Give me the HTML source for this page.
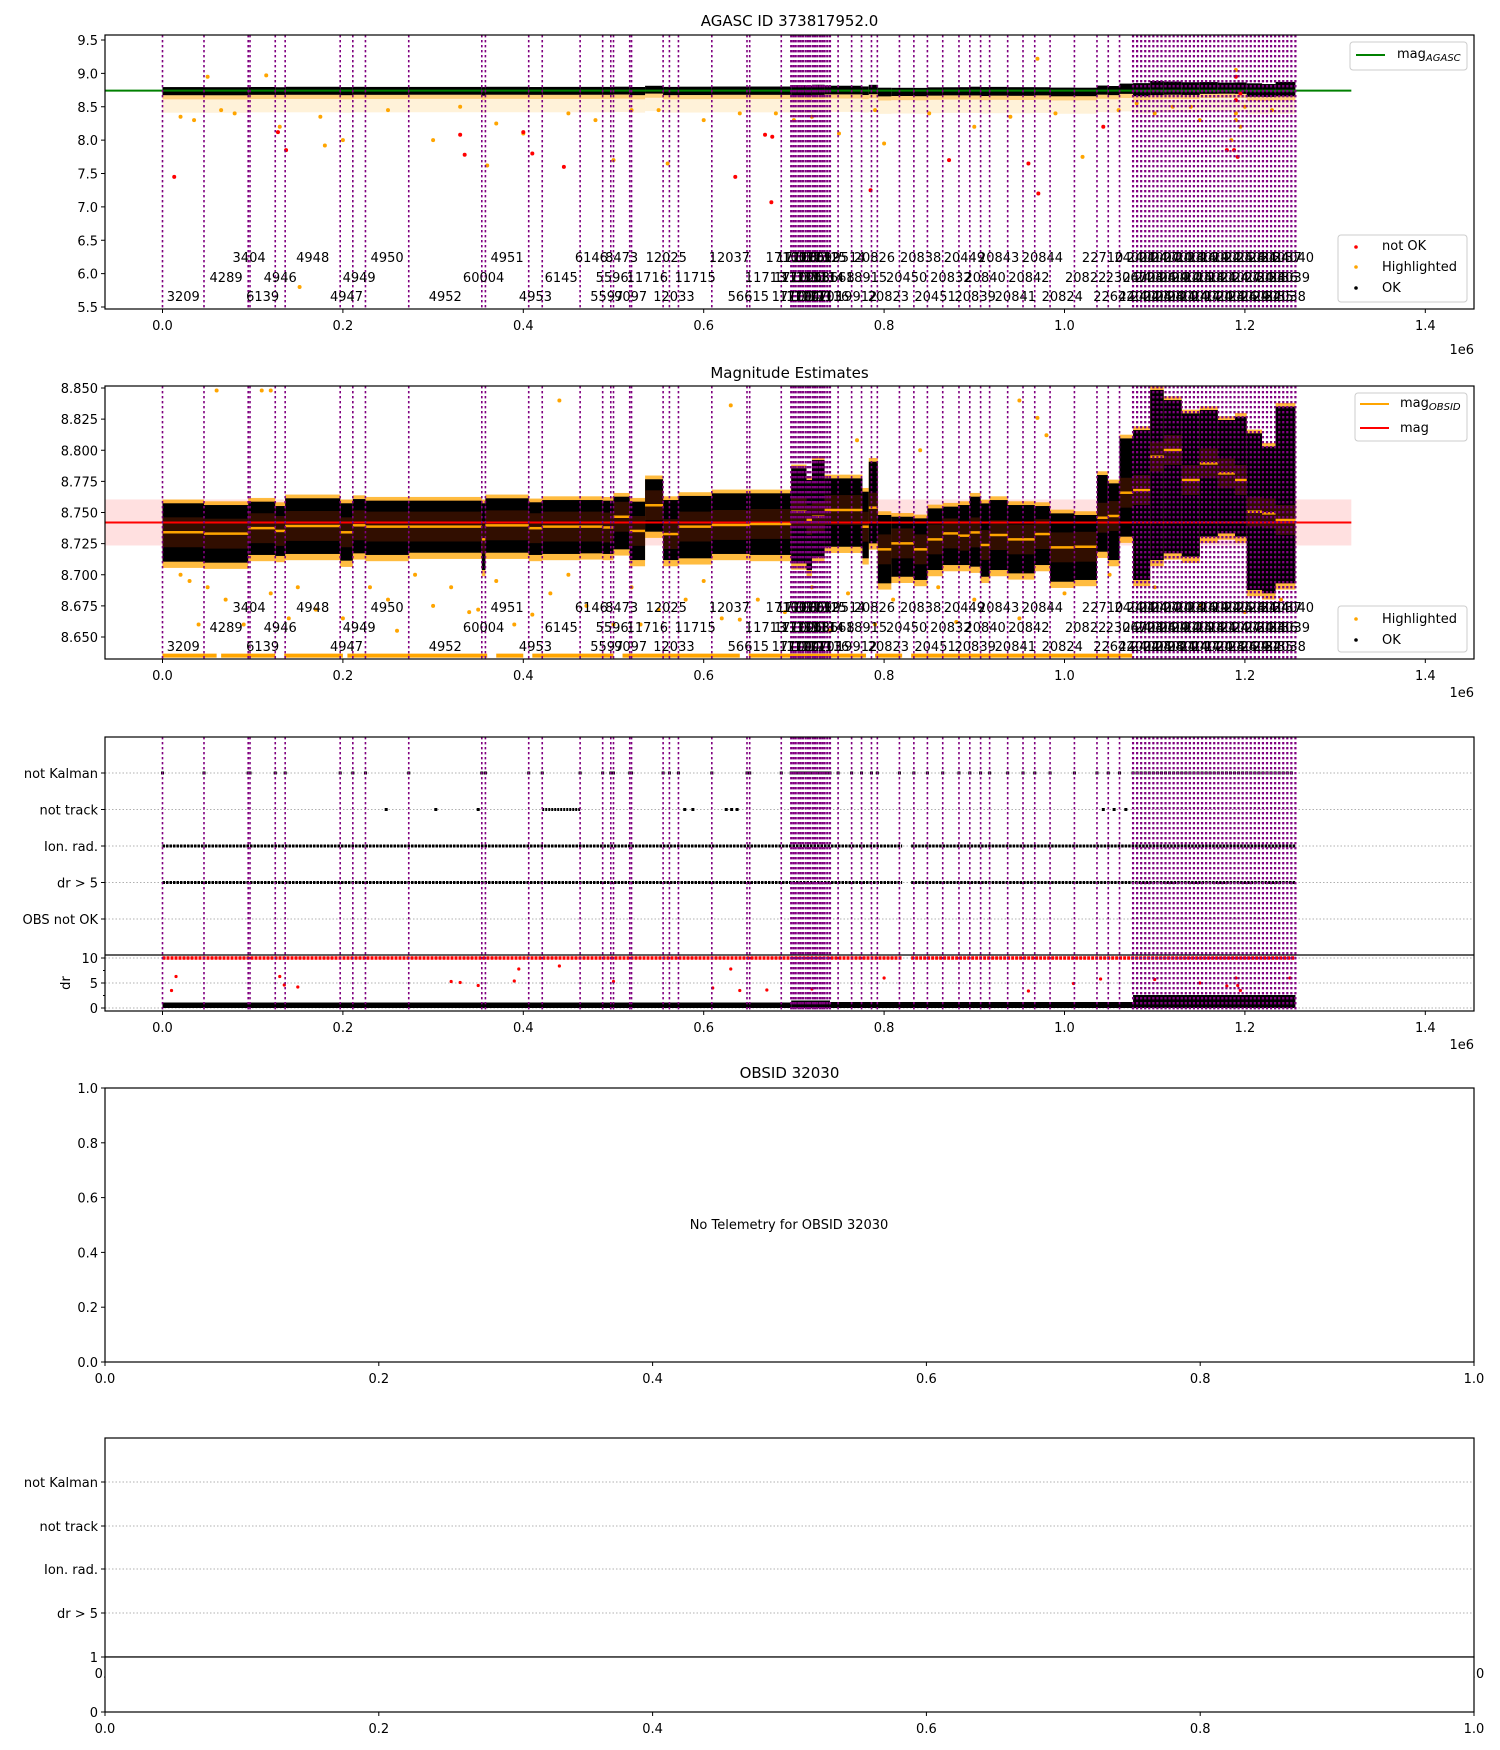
<!DOCTYPE html>
<html><head><meta charset="utf-8"><title>AGASC 373817952</title>
<style>
html,body{margin:0;padding:0;background:#fff;}
svg{display:block;font-family:"DejaVu Sans","Liberation Sans",sans-serif;}
</style></head>
<body>
<svg id="fig" width="1500" height="1750" viewBox="0 0 1500 1750" xmlns="http://www.w3.org/2000/svg">
<rect x="0" y="0" width="1500" height="1750" fill="#fff"/>
<defs>
<clipPath id="c1"><rect x="105" y="35" width="1369" height="274"/></clipPath>
<clipPath id="c2"><rect x="105" y="386" width="1369" height="273"/></clipPath>
<clipPath id="c3"><rect x="105" y="737" width="1369" height="274"/></clipPath>
</defs>
<g id="p1"></g>
<g id="p2"></g>
<g id="p3"></g>
<g id="p4"></g>
<g id="p5"></g>
</svg>
<script>
// ---------- data ----------
const obsStart = [0.000,0.046,0.095,0.097,0.125,0.136,0.197,0.211,0.225,0.273,0.354,0.358,0.406,0.421,0.463,0.488,0.497,0.500,0.518,0.520,0.555,0.562,0.572,0.609,0.648,0.651,0.686,
0.697,0.6995,0.702,0.705,0.7075,0.710,0.713,0.7155,0.718,0.721,0.7235,0.726,0.729,0.7315,0.734,0.737,
0.740,0.749,0.764,0.775,0.786,0.7925,0.817,0.833,0.848,0.865,0.883,0.895,0.907,0.917,0.937,0.954,0.967,0.984,1.011,1.036,1.0485,1.061,
1.076,1.0805,1.085,1.0895,1.094,1.0985,1.103,1.1075,1.112,1.1165,1.121,1.1255,1.130,1.1345,1.139,1.1435,1.148,1.1525,1.157,1.1615,1.166,1.1705,1.175,1.1795,1.184,1.1885,1.193,1.1975,1.202,1.2065,1.211,1.2155,1.220,1.2245,1.229,1.2335,1.238,1.2425,1.247,1.2515];
const obsLastEnd = 1.256;
const obsIds = ["3209","4289","3404","6139","4946","4948","4947","4949","4950","4952","60004","4951","4953","6145","6146","5597","5596","8473","9097","11716","12025","12033","11715","12037","56615","11713","17100",
"17101","17102","17103","17104","17105","17106","17107","17108","17109","17110","17111","17112","17113","17114","17115","17116",
"18668","19514","19912","18915","20826","20823","20450","20838","20451","20832","20449","20839","20840","20843","20841","20842","20844","20824","20822","22710","22642","23067",
"24001","24002","24003","24004","24005","24006","24007","24008","24009","24010","24011","24012","24013","24014","24015","24016","24017","24018","24019","24020","24021","24022","24023","24024","24025","24026","24027","24028","24029","24030","24031","24032","24033","24034","24035","24036","24037","24038","24039","24040"];

const segStart = [0.000,0.046,0.095,0.125,0.136,0.197,0.211,0.225,0.273,0.354,0.358,0.406,0.421,0.463,0.488,0.500,0.518,0.535,0.555,0.572,0.609,0.651,0.697,0.714,0.720,0.734,0.776,0.783,0.793,0.808,0.833,0.848,0.865,0.882,0.895,0.907,0.917,0.937,0.967,0.984,1.011,1.036,1.048,1.061,1.076,1.095,1.110,1.130,1.150,1.170,1.189,1.202,1.219,1.234];
const segEnd   = [0.046,0.095,0.125,0.136,0.197,0.211,0.225,0.273,0.354,0.358,0.406,0.421,0.463,0.488,0.500,0.518,0.535,0.555,0.572,0.609,0.651,0.697,0.714,0.720,0.734,0.776,0.783,0.793,0.808,0.833,0.848,0.865,0.882,0.895,0.907,0.917,0.937,0.967,0.984,1.011,1.036,1.048,1.061,1.076,1.095,1.110,1.130,1.150,1.170,1.189,1.202,1.219,1.234,1.256];
const segLo    = [8.7105,8.7097,8.7159,8.7151,8.7167,8.7113,8.7172,8.7159,8.7177,8.7038,8.7177,8.7159,8.7167,8.7172,8.7167,8.7204,8.7118,8.7346,8.7118,8.7132,8.7167,8.7159,8.7091,8.7038,8.7145,8.7225,8.7132,8.7252,8.6931,8.6984,8.6958,8.7038,8.7078,8.7078,8.7065,8.6984,8.7038,8.7011,8.7078,8.6944,8.6958,8.7185,8.7118,8.7306,8.6958,8.7118,8.7172,8.7145,8.7306,8.7332,8.7306,8.6877,8.6851,8.6931];
const segHi    = [8.7574,8.7560,8.7587,8.7552,8.7614,8.7574,8.7608,8.7595,8.7595,8.7574,8.7614,8.7582,8.7600,8.7600,8.7595,8.7627,8.7587,8.7767,8.7600,8.7633,8.7654,8.7654,8.7855,8.7761,8.7921,8.7774,8.7667,8.7908,8.7480,8.7466,8.7453,8.7533,8.7547,8.7560,8.7627,8.7573,8.7600,8.7560,8.7552,8.7493,8.7480,8.7801,8.7734,8.8095,8.8162,8.8484,8.8403,8.8296,8.8323,8.8243,8.8269,8.8136,8.8029,8.8350];
const segMean  = [8.7341,8.7330,8.7374,8.7352,8.7392,8.7341,8.7397,8.7387,8.7387,8.7285,8.7397,8.7374,8.7387,8.7387,8.7380,8.7466,8.7352,8.7558,8.7327,8.7387,8.7400,8.7408,8.7506,8.7440,8.7466,8.7520,8.7386,8.7539,8.7204,8.7252,8.7204,8.7284,8.7332,8.7314,8.7340,8.7239,8.7319,8.7284,8.7327,8.7220,8.7225,8.7458,8.7472,8.7659,8.7680,8.7948,8.8002,8.7761,8.7895,8.7814,8.7761,8.7506,8.7493,8.7440];

const magAgasc = 8.742;
const magEst = 8.742;
const magErr = 0.0185;
const lineEnd = 1.318;

const p1RedT = [0.013,0.128,0.137,0.33,0.335,0.40,0.41,0.445,0.635,0.668,0.676,0.675,0.785,0.872,0.960,0.971,1.043,1.18,1.188,1.19,1.192,1.19,1.195];
const p1RedM = [7.45,8.12,7.85,8.08,7.78,8.12,7.80,7.60,7.45,8.08,8.05,7.07,7.25,7.70,7.65,7.20,8.20,7.85,7.85,8.95,7.75,8.60,8.70];
const p1OrT = [0.05,0.115,0.18,0.152,0.20,0.30,0.36,0.13,0.40,0.50,0.56,0.60,0.75,0.80,0.90,0.97,1.02,1.185,1.19,1.19,1.195,1.19,1.20,1.23,1.10,1.12,1.08,1.15,0.70,0.68,0.25,0.33,0.45,0.55,0.85,0.02,0.08,0.035,0.065,0.175,0.37,0.48,0.52,0.64,0.72,0.79,0.94,0.99,1.06,1.14];
const p1OrM = [8.95,8.97,7.92,5.80,8.00,8.00,7.62,8.20,8.10,7.70,7.65,8.30,8.10,7.95,8.20,9.22,7.75,8.00,8.30,8.40,8.20,9.05,8.50,8.45,8.40,8.50,8.55,8.30,8.30,8.40,8.45,8.50,8.40,8.45,8.40,8.35,8.40,8.30,8.45,8.35,8.25,8.30,8.45,8.40,8.35,8.45,8.35,8.40,8.45,8.50];

const p2OrT = [0.06,0.11,0.12,0.44,0.63,0.95,0.97,0.77,0.98,0.84,0.02,0.03,0.05,0.07,0.09,0.12,0.15,0.17,0.20,0.23,0.25,0.28,0.30,0.32,0.34,0.37,0.39,0.43,0.45,0.47,0.50,0.52,0.55,0.58,0.60,0.62,0.66,0.69,0.72,0.76,0.79,0.81,0.86,0.90,0.95,1.00,1.05,1.10,1.15,1.20,1.24,0.04,0.14,0.26,0.35,0.41,0.53,0.64,0.74,0.88];
const p2OrM = [8.848,8.848,8.848,8.840,8.836,8.840,8.826,8.808,8.812,8.800,8.700,8.695,8.690,8.680,8.660,8.685,8.690,8.672,8.665,8.690,8.680,8.700,8.675,8.690,8.670,8.695,8.660,8.685,8.700,8.675,8.660,8.690,8.672,8.680,8.695,8.665,8.680,8.670,8.690,8.685,8.660,8.680,8.690,8.680,8.665,8.685,8.700,8.690,8.675,8.670,8.680,8.66,8.665,8.655,8.672,8.668,8.660,8.664,8.655,8.662];
const clipRanges = [[0.0,0.06],[0.065,0.125],[0.135,0.2],[0.205,0.36],[0.37,0.4],[0.41,0.5],[0.51,0.64],[0.65,0.78],[0.79,0.82],[0.83,1.075]];

const notTrackT = [0.248,0.303,0.35,0.579,0.588,0.625,0.631,0.637,1.043,1.055,1.068];
const notTrackRanges = [[0.421,0.463]];
const ionRanges = [[0.0,0.82],[0.83,1.256]];
const drTopStart = [0.0,0.697,0.74,1.076];
const drTopEnd = [0.697,0.74,1.076,1.256];
const drTop = [1.1,1.5,1.2,2.6];
const drRedT = [0.015,0.01,0.13,0.135,0.15,0.32,0.33,0.35,0.39,0.395,0.44,0.50,0.61,0.63,0.64,0.67,0.72,0.80,0.96,1.01,1.04,1.10,1.15,1.18,1.19,1.192,1.195,1.25];
const drRed = [6.3,3.5,6.3,4.6,4.2,5.3,5.1,4.5,5.4,7.8,8.4,5.3,4.0,7.8,3.5,3.6,3.8,6.0,3.4,4.9,5.8,5.7,5.0,4.4,6.0,4.5,3.5,6.0];

// ---------- helpers ----------
const NS = "http://www.w3.org/2000/svg";
function mk(parent, tag, attrs, text){
  const e = document.createElementNS(NS, tag);
  for (const k in attrs) e.setAttribute(k, attrs[k]);
  if (text !== undefined) e.textContent = text;
  parent.appendChild(e);
  return e;
}
const L = 105, R = 1474;
const X = v => 162.5 + v*902;
const Y1 = m => 40 + (9.5 - m)*66.75;
const Y2 = m => 388 + (8.85 - m)*1245;
const YF = i => 919 - i*36.5;
const YD = d => 1008 - d*5;
const obsEnd = obsStart.map((s,i)=> i < obsStart.length-1 ? obsStart[i+1] : obsLastEnd);

function frame(g, top, bot, name){
  const r = mk(g,'rect',{x:L,y:top,width:R-L,height:bot-top,fill:'none',stroke:'#000','stroke-width':1.2});
  
  
}
function xTicks(g, bot, vals, fmt, expOff){
  vals.forEach(v=>{
    const x = X(v);
    mk(g,'line',{x1:x,y1:bot,x2:x,y2:bot+4,stroke:'#000','stroke-width':1});
    const t = mk(g,'text',{x:x,y:bot+21,'font-size':13,'text-anchor':'middle'}, fmt(v));
    
    
  });
  const t = mk(g,'text',{x:R,y:bot+expOff,'font-size':13,'text-anchor':'end'},'1e6');
  
  
}
function yTick(g, y, label){
  mk(g,'line',{x1:L-4,y1:y,x2:L,y2:y,stroke:'#000','stroke-width':1});
  const t = mk(g,'text',{x:L-7,y:y+5,'font-size':13,'text-anchor':'end'},label);
  
  
}
function title(g, y, s){
  const t = mk(g,'text',{x:(L+R)/2,y:y,'font-size':15,'text-anchor':'middle'},s);
  
  
}
function vlines(g, top, bot){
  const xs = obsStart.concat([obsLastEnd]);
  xs.forEach(v=>{
    const dense = (v>0.696 && v<0.741) || (v>1.075);
    const l = mk(g,'line',{x1:X(v),y1:top,x2:X(v),y2:bot,stroke:'#800080','stroke-width':dense?2.2:1.6,'stroke-dasharray':'2.4,2.6'});
    
    
  });
}
function obsLabels(g, bot){
  const rows = [bot-13, bot-32, bot-52];
  obsIds.forEach((id,i)=>{
    const c = (obsStart[i]+obsEnd[i])/2;
    const t = mk(g,'text',{x:X(c),y:rows[i%3]+5,'font-size':13,'text-anchor':'middle'},id);
    
    
  });
}
function legendBox(g, x, y, w, h, name){
  const r = mk(g,'rect',{x:x,y:y,width:w,height:h,rx:3,fill:'#fff','fill-opacity':0.8,stroke:'#ccc','stroke-width':1});
  
  
}
function legendMark(g, x, y, color){
  mk(g,'circle',{cx:x,cy:y,r:1.8,fill:color});
}
function legendLine(g, x, y, color){
  mk(g,'line',{x1:x,y1:y,x2:x+29,y2:y,stroke:color,'stroke-width':2});
}
function legendText(g, x, y, main, sub){
  const t = mk(g,'text',{x:x,y:y+5,'font-size':13},main);
  if (sub){ mk(t,'tspan',{'font-size':10,'font-style':'italic',dy:3},sub); }
  
  
  return t;
}
const xt = [0,0.2,0.4,0.6,0.8,1.0,1.2,1.4];
const fx = v => v.toFixed(1);

// ---------- panel 1 ----------
(function(){
  const g = document.getElementById('p1');
  title(g, 26, 'AGASC ID 373817952.0');
  const c = mk(g,'g',{'clip-path':'url(#c1)'});
  segStart.forEach((s,i)=>{
    const r = mk(c,'rect',{x:X(s),y:Y1(segLo[i]),width:X(segEnd[i])-X(s),height:Y1(segLo[i]-0.1)-Y1(segLo[i]),fill:'#ffa500','fill-opacity':0.5});
    
    
    const r2 = mk(c,'rect',{x:X(s),y:Y1(segLo[i]-0.1),width:X(segEnd[i])-X(s),height:Y1(segLo[i]-0.3)-Y1(segLo[i]-0.1),fill:'#ffa500','fill-opacity':0.15});
    
    
  });
  segStart.forEach((s,i)=>{
    const r = mk(c,'rect',{x:X(s),y:Y1(segHi[i])-2.5,width:X(segEnd[i])-X(s),height:Y1(segLo[i])-Y1(segHi[i])+5,fill:'#000'});
    
    
  });
  p1OrT.forEach((t,i)=>{
    const p = mk(c,'circle',{cx:X(t),cy:Y1(p1OrM[i]),r:2,fill:'#ffa500'});
    
    
  });
  p1RedT.forEach((t,i)=>{
    const p = mk(c,'circle',{cx:X(t),cy:Y1(p1RedM[i]),r:2,fill:'#ff0000'});
    
    
  });
  const gl = mk(c,'line',{x1:L,y1:Y1(magAgasc),x2:X(lineEnd),y2:Y1(magAgasc),stroke:'#008000','stroke-width':2});
  
  
  vlines(c, 35, 309);
  obsLabels(g, 309);
  frame(g, 35, 309, 'agasc-axes');
  [5.5,6.0,6.5,7.0,7.5,8.0,8.5,9.0,9.5].forEach(v=>yTick(g, Y1(v), v.toFixed(1)));
  xTicks(g, 309, xt, fx, 45);
  legendBox(g, 1350, 42, 117, 28, 'legend-agasc');
  legendLine(g, 1356, 55, '#008000');
  legendText(g, 1397, 53, 'mag', 'AGASC');
  legendBox(g, 1338, 235, 129, 67, 'legend-points');
  legendMark(g, 1356, 247, '#ff0000'); legendText(g, 1382, 245, 'not OK');
  legendMark(g, 1356, 267, '#ffa500'); legendText(g, 1382, 266, 'Highlighted');
  legendMark(g, 1356, 288, '#000'); legendText(g, 1382, 287, 'OK');
})();

// ---------- panel 2 ----------
(function(){
  const g = document.getElementById('p2');
  title(g, 378, 'Magnitude Estimates');
  const c = mk(g,'g',{'clip-path':'url(#c2)'});
  const band = mk(c,'rect',{x:L,y:Y2(magEst+magErr),width:X(lineEnd)-L,height:Y2(magEst-magErr)-Y2(magEst+magErr),fill:'#ff0000','fill-opacity':0.12});
  
  
  clipRanges.forEach(r=>{
    const l = mk(c,'line',{x1:X(r[0]),y1:Y2(8.635),x2:X(r[1]),y2:Y2(8.635),stroke:'#ffa500','stroke-width':4});
    
    
  });
  p2OrT.forEach((t,i)=>{
    const p = mk(c,'circle',{cx:X(t),cy:Y2(p2OrM[i]),r:2,fill:'#ffa500'});
    
    
  });
  segStart.forEach((s,i)=>{
    const r = mk(c,'rect',{x:X(s),y:Y2(segHi[i]+0.003),width:X(segEnd[i])-X(s),height:Y2(segLo[i]-0.005)-Y2(segHi[i]+0.003),fill:'#ffa500','fill-opacity':0.75});
    
    
  });
  segStart.forEach((s,i)=>{
    const r = mk(c,'rect',{x:X(s),y:Y2(segHi[i]),width:X(segEnd[i])-X(s),height:Y2(segLo[i])-Y2(segHi[i]),fill:'#000'});
    
    
    const f = mk(c,'rect',{x:X(s),y:Y2(segMean[i]+0.012),width:X(segEnd[i])-X(s),height:Y2(segMean[i]-0.012)-Y2(segMean[i]+0.012),fill:'#5a1a00','fill-opacity':0.55});
    
    
  });
  const rl = mk(c,'line',{x1:L,y1:Y2(magEst),x2:X(lineEnd),y2:Y2(magEst),stroke:'#ff0000','stroke-width':2});
  
  
  segStart.forEach((s,i)=>{
    const l = mk(c,'line',{x1:X(s),y1:Y2(segMean[i]),x2:X(segEnd[i]),y2:Y2(segMean[i]),stroke:'#ffa500','stroke-width':2.5});
    
    
  });
  vlines(c, 386, 659);
  obsLabels(g, 659);
  frame(g, 386, 659, 'estimates-axes');
  [8.650,8.675,8.700,8.725,8.750,8.775,8.800,8.825,8.850].forEach(v=>yTick(g, Y2(v), v.toFixed(3)));
  xTicks(g, 659, xt, fx, 38);
  legendBox(g, 1355, 393, 112, 48, 'legend-lines');
  legendLine(g, 1360, 404, '#ffa500'); legendText(g, 1400, 402, 'mag', 'OBSID');
  legendLine(g, 1360, 428, '#ff0000'); legendText(g, 1400, 427, 'mag');
  legendBox(g, 1338, 606, 129, 46, 'legend-points');
  legendMark(g, 1356, 619, '#ffa500'); legendText(g, 1382, 618, 'Highlighted');
  legendMark(g, 1356, 640, '#000'); legendText(g, 1382, 639, 'OK');
})();

// ---------- panel 3 ----------
(function(){
  const g = document.getElementById('p3');
  const c = mk(g,'g',{'clip-path':'url(#c3)'});
  const cats = ['OBS not OK','dr > 5','Ion. rad.','not track','not Kalman'];
  cats.forEach((n,i)=>{
    const l = mk(c,'line',{x1:L,y1:YF(i),x2:R,y2:YF(i),stroke:'#b0b0b0','stroke-width':1,'stroke-dasharray':'1.5,2'});
    
    
  });
  [0,5,10].forEach(d=>{
    mk(c,'line',{x1:L,y1:YD(d),x2:R,y2:YD(d),stroke:'#b0b0b0','stroke-width':1,'stroke-dasharray':'1.5,2'});
  });
  obsStart.forEach(s=>{
    const p = mk(c,'rect',{x:X(s)-1.5,y:YF(4)-1.5,width:3,height:3,fill:'#000'});
    
    
  });
  notTrackT.forEach(t=>{
    const p = mk(c,'rect',{x:X(t)-1.5,y:YF(3)-1.5,width:3,height:3,fill:'#000'});
    
    
  });
  notTrackRanges.forEach(r=>{
    const l = mk(c,'line',{x1:X(r[0]),y1:YF(3),x2:X(r[1]),y2:YF(3),stroke:'#000','stroke-width':3,'stroke-dasharray':'2,1'});
    
    
  });
  ionRanges.forEach(r=>{
    const a = mk(c,'line',{x1:X(r[0]),y1:YF(2),x2:X(r[1]),y2:YF(2),stroke:'#000','stroke-width':3,'stroke-dasharray':'2.5,1'});
    
    
    const b = mk(c,'line',{x1:X(r[0]),y1:YF(1),x2:X(r[1]),y2:YF(1),stroke:'#000','stroke-width':3,'stroke-dasharray':'2.5,1'});
    
    
    const d = mk(c,'line',{x1:X(r[0]),y1:YD(10),x2:X(r[1]),y2:YD(10),stroke:'#ff0000','stroke-width':3.5,'stroke-dasharray':'3,1'});
    
    
  });
  drTopStart.forEach((s,i)=>{
    const r = mk(c,'rect',{x:X(s),y:YD(drTop[i]),width:X(drTopEnd[i])-X(s),height:YD(0)-YD(drTop[i]),fill:'#000'});
    
    
  });
  drRedT.forEach((t,i)=>{
    const p = mk(c,'circle',{cx:X(t),cy:YD(drRed[i]),r:1.6,fill:'#ff0000'});
    
    
  });
  vlines(c, 737, 1011);
  const sep = mk(g,'line',{x1:L,y1:955,x2:R,y2:955,stroke:'#000','stroke-width':1.2});
  
  
  frame(g, 737, 1011, 'flags-axes');
  cats.forEach((n,i)=>yTick(g, YF(i), n));
  [0,5,10].forEach(d=>yTick(g, YD(d), String(d)));
  [2.5,7.5].forEach(d=>mk(g,'line',{x1:L-2,y1:YD(d),x2:L,y2:YD(d),stroke:'#000'}));
  const yl = mk(g,'text',{x:70,y:983,'font-size':13,'text-anchor':'middle',transform:'rotate(-90 70 983)'},'dr');
  
  
  xTicks(g, 1011, xt, fx, 38);
})();

// ---------- panel 4 ----------
(function(){
  const g = document.getElementById('p4');
  title(g, 1078, 'OBSID 32030');
  frame(g, 1088, 1362, 'obsid-axes');
  const X4 = u => 105 + u*1369, Y4 = u => 1362 - u*274;
  [0,0.2,0.4,0.6,0.8,1.0].forEach(u=>{
    yTick(g, Y4(u), u.toFixed(1));
    mk(g,'line',{x1:X4(u),y1:1362,x2:X4(u),y2:1366,stroke:'#000'});
    const t = mk(g,'text',{x:X4(u),y:1383,'font-size':13,'text-anchor':'middle'},u.toFixed(1));
    
    
  });
  const m = mk(g,'text',{x:789,y:1229,'font-size':13,'text-anchor':'middle'},'No Telemetry for OBSID 32030');
  
  
})();

// ---------- panel 5 ----------
(function(){
  const g = document.getElementById('p5');
  const rows = [['not Kalman',1482],['not track',1526],['Ion. rad.',1569],['dr > 5',1613]];
  rows.forEach(r=>{
    const l = mk(g,'line',{x1:L,y1:r[1],x2:R,y2:r[1],stroke:'#b0b0b0','stroke-width':1,'stroke-dasharray':'1.5,2'});
    
    
    yTick(g, r[1], r[0]);
  });
  mk(g,'text',{x:105,y:1678,'font-size':13,'text-anchor':'middle'},'0.0');
  mk(g,'text',{x:1474,y:1678,'font-size':13,'text-anchor':'middle'},'1.0');
  frame(g, 1438, 1657, 'obsid-flags-axes');
  const w = mk(g,'rect',{x:L,y:1657,width:R-L,height:55,fill:'#fff',stroke:'#000','stroke-width':1.2});
  
  
  yTick(g, 1657, '1');
  yTick(g, 1712, '0');
  const X5 = u => 105 + u*1369;
  [0,0.2,0.4,0.6,0.8,1.0].forEach(u=>{
    mk(g,'line',{x1:X5(u),y1:1712,x2:X5(u),y2:1716,stroke:'#000'});
    const t = mk(g,'text',{x:X5(u),y:1733,'font-size':13,'text-anchor':'middle'},u.toFixed(1));
    
    
  });
})();
</script>
</body></html>
